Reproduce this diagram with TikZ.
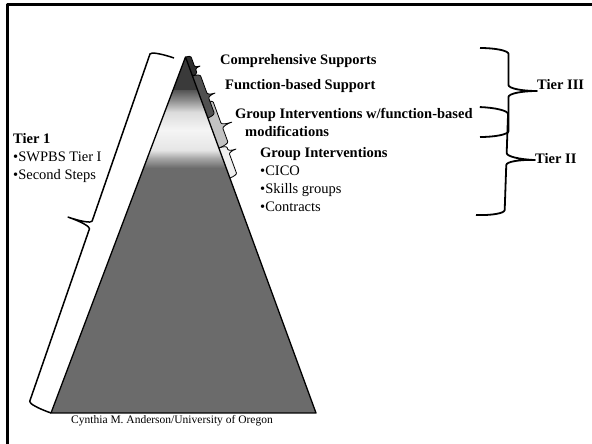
\documentclass[tikz,border=0pt]{standalone}
\usepackage{fontspec}
\setmainfont{Liberation Serif}
\usepackage{xcolor}
\definecolor{slidetop}{HTML}{3A3A3A}
\definecolor{slidegray}{HTML}{6B6B6B}
\definecolor{capdark}{HTML}{2E2E2E}
\definecolor{capmid}{HTML}{505050}
\definecolor{capsoft}{HTML}{C2C2C2}
\definecolor{cappale}{HTML}{EFEFEF}
\pgfdeclareverticalshading{tierband}{100bp}{color(0bp)=(slidegray); color(25bp)=(slidegray);
  color(31.4bp)=(black!34); color(36.5bp)=(black!10); color(49.4bp)=(black!4);
  color(60.9bp)=(black!14); color(68.6bp)=(black!45); color(75bp)=(black!67); color(100bp)=(black!67)}
\tikzset{
  % curly brace: length, width to tip, tip position, curl
  pics/curly/.style n args={4}{code={
    \path[pic actions] (0,0)
      .. controls (0,0.276*#2) and (0.448*#4,0.5*#2) .. (#4,0.5*#2)
      -- (#3-#4,0.5*#2)
      .. controls (#3-0.448*#4,0.5*#2) and (#3,0.724*#2) .. (#3,#2)
      .. controls (#3,0.724*#2) and (#3+0.448*#4,0.5*#2) .. (#3+#4,0.5*#2)
      -- (#1-#4,0.5*#2)
      .. controls (#1-0.448*#4,0.5*#2) and (#1,0.276*#2) .. (#1,0);
  }},
  lbl/.style={inner sep=0pt, anchor=base west, align=left, font=\fontsize{14.5}{18}\selectfont},
  hdr/.style={lbl, font=\fontsize{14.5}{18}\selectfont\bfseries},
}
\begin{document}
\begin{tikzpicture}[x=1pt,y=-1pt,line join=round]
\useasboundingbox (0,0) rectangle (592,444);
% slide frame
\draw[line width=3pt] (7.5,444) -- (7.5,4.7) -- (592,4.7);
% pyramid
\coordinate (apex) at (185.5,57);
\coordinate (baseL) at (51,413);
\coordinate (baseR) at (316,413);
\begin{scope}
\clip (apex) -- (baseL) -- (baseR) -- cycle;
\fill[slidegray] (0,168) rectangle (592,413);
\shade[shading=tierband] (0,90) rectangle (592,168);
\fill[slidetop] (0,50) rectangle (592,90);
\end{scope}
% braces on the right edge
\pic[rotate=110.1,draw,fill=cappale,line width=0.8pt] at (229.9,178) {curly={32}{15.7}{25.1}{2.5}};
\pic[rotate=110.1,draw,fill=capsoft,line width=0.8pt] at (218.9,148) {curly={47.9}{21}{19.9}{3}};
\pic[rotate=110.1,draw,fill=capmid,line width=0.8pt] at (207.9,118) {curly={44.7}{15.3}{21}{3}};
\pic[rotate=110.1,draw,fill=capdark,line width=0.8pt] at (192.5,76) {curly={20.2}{10.5}{6.8}{2}};
\draw[line width=1.3pt] (apex) -- (baseL) -- (baseR) -- cycle;
% tier 1 brace
\pic[rotate=-109.1,draw,line width=1.5pt] at (174,58) {curly={375.7}{48}{185}{4}};
% tier braces
\pic[rotate=90,draw,line width=1.8pt] at (480,137) {curly={89}{57}{46}{6}};
\pic[rotate=88,draw,line width=1.8pt] at (476,215) {curly={108}{57}{57}{6}};
% labels (base = last line)
\node[hdr] (comp) at (220,65) {Comprehensive Supports};
\node[hdr] (fbs) at (225,90) {Function-based Support};
\node[hdr] (gifb) at (235,136) {Group Interventions w/function-based\\\hspace*{10pt}modifications};
\node[lbl] (gi) at (260,211) {\textbf{Group Interventions}\\•CICO\\•Skills groups\\•Contracts};
\node[lbl] (tierone) at (13,179) {\textbf{Tier 1}\\•SWPBS Tier I\\•Second Steps};
\node[hdr] (tierthree) at (537,90) {Tier III};
\node[hdr] (tiertwo) at (535,163) {Tier II};
\node[lbl,anchor=base,font=\fontsize{11.5}{14}\selectfont] (credit) at (172,423) {Cynthia M. Anderson/University of Oregon};
\end{tikzpicture}
\end{document}
